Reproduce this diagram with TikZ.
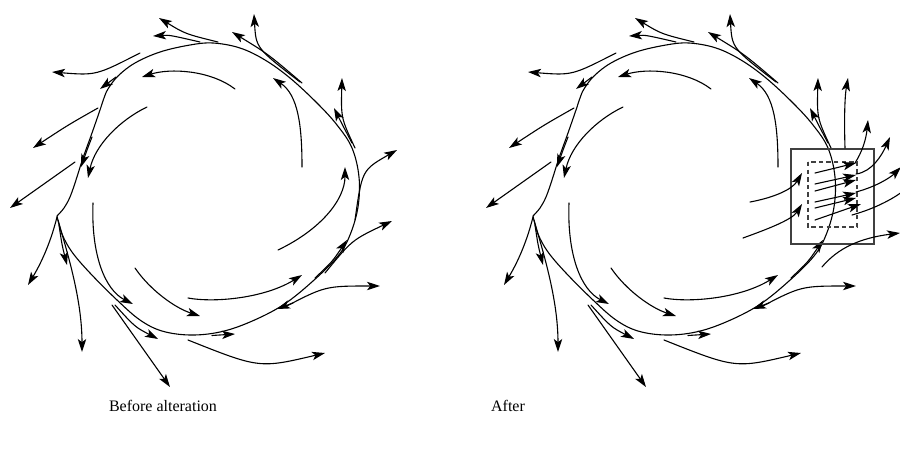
\documentclass[tikz,border=0pt]{standalone}
\usepackage{fontspec}
\setmainfont{Liberation Serif}
\usetikzlibrary{arrows.meta}
\tikzset{
  curve/.style={line width=0.55pt, line cap=round},
  flow/.style={curve, -{Stealth[length=6.5pt,width=4.2pt,inset=1.6pt]}},
  solidbox/.style={line width=0.6pt, draw=black!75},
  dashbox/.style={line width=0.6pt, draw=black!75, dash pattern=on 2.2pt off 1.6pt},
  caption/.style={font=\fontsize{8}{9.6}\selectfont, anchor=base, inner sep=0pt}
}
% strokes shared by both diagrams
\newcommand\flowshared{%
  % main loop
  \draw[curve] plot[smooth, tension=0.6] coordinates {(57,216) (64,208) (70,197) (76,180) (83,158) (92,133) (100,110) (104,98) (108,89) (118,76) (135,63) (160,52) (190,45) (213,43) (240,48) (265,60) (290,78) (317,103) (337,125) (352,148) (359,177) (358,207) (350,235) (338,256) (313,281) (283,305) (250,322) (220,332) (190,335) (162,331) (140,320) (117,300) (90,273) (72,252) (62,234) (57,216)};
  % outer arrows
  \draw[flow] (140,53) .. controls (96,75.5) .. (52,72);
  \draw[flow] (200,42) .. controls (169.5,35) .. (153,36);
  \draw[flow] (218,42) .. controls (185.5,34) .. (159,18);
  \draw[flow] (302,83) .. controls (268,54) .. (232,32);
  \draw[flow] (300,82) .. controls (256,48) .. (254,14);
  \draw[flow] (355,148) .. controls (341,118) .. (342,78);
  \draw[flow] (352,143) .. controls (342,124) .. (334,108);
  \draw[flow] (283,308) .. controls (325,286) .. (380,286);
  \draw[flow] (188,340) .. controls (259.5,368.5) .. (325,353);
  \draw[flow] (112,305) -- (170,387);
  \draw[flow] (58,220) .. controls (68,255) and (82,300) .. (82,352);
  \draw[flow] (57,217) .. controls (50,245) and (40,265) .. (28,285);
  \draw[flow] (75,162) -- (10,208);
  \draw[flow] (98,108) .. controls (68,125) .. (33,148);
  % arrowheads along the loop
  \draw[flow] (116,77) -- (100,89);
  \draw[flow] (92,137) .. controls (87,150) .. (81,167);
  \draw[flow] (59,225) .. controls (62,245) .. (67,265);
  \draw[flow] (115,305) .. controls (135,327) .. (158,339);
  \draw[flow] (212,335.5) -- (235,334);
  \draw[flow] (293,303) -- (277,309);
  \draw[flow] (315,278) .. controls (332,262) .. (347,240);
  % inner arrows
  \draw[flow] (235,89) .. controls (210,70) and (170,68) .. (142,77);
  \draw[flow] (147,107) .. controls (120,120) and (95,145) .. (88,178);
  \draw[flow] (93,203) .. controls (91,255) and (105,290) .. (133,304);
  \draw[flow] (135,268) .. controls (150,290) and (175,308) .. (200,316);
  \draw[flow] (188,298) .. controls (215,303) and (265,298) .. (302,275);
  \draw[flow] (302,167) .. controls (302,125) and (298,95) .. (273,78);
}
\begin{document}
\begin{tikzpicture}[x=0.5pt,y=-0.5pt]
\useasboundingbox (0,0) rectangle (900,450);

% ---------- left: before alteration ----------
\flowshared
\draw[flow] (278,250) .. controls (320,230) and (345,200) .. (345,167);
\draw[flow] (355,220) .. controls (362,170) .. (397,150);
\draw[flow] (325,273) .. controls (352,240) .. (392,221);
\node[caption] (capL) at (163,411) {Before alteration};

% ---------- right: after ----------
\begin{scope}[shift={(476,0)}]
  \flowshared
\end{scope}
\draw[solidbox] (791,149) rectangle (874,244);
\draw[dashbox] (808,162) rectangle (857,227);
% arrows inside the box
\draw[flow] (815,173) -- (856,163);
\draw[flow] (815,184) -- (856,175);
\draw[flow] (815,191) -- (856,180);
\draw[flow] (815,202) -- (856,193);
\draw[flow] (815,208) -- (856,198);
\draw[flow] (815,220) -- (861,204);
% continuations leaving the box
\draw[flow] (855,163) .. controls (862,152) and (866,140) .. (868,120);
\draw[flow] (856,174) .. controls (872,172) and (882,155) .. (890,137);
\draw[flow] (856,192) .. controls (875,187) and (890,178) .. (901,167);
\draw[curve] (852,215) .. controls (870,210) and (888,202) .. (902,192);
\draw[flow] (822,267) .. controls (838,248) and (860,238) .. (900,233);
% arrows entering the box
\draw[flow] (750,202) .. controls (772,198) and (792,190) .. (802,173);
\draw[flow] (743,238) .. controls (765,230) and (792,220) .. (802,204);
% upward arrow from box top
\draw[flow] (845,148) .. controls (844,115) and (845,95) .. (848,78);
\node[caption] (capR) at (508,411) {After};
\end{tikzpicture}
\end{document}
